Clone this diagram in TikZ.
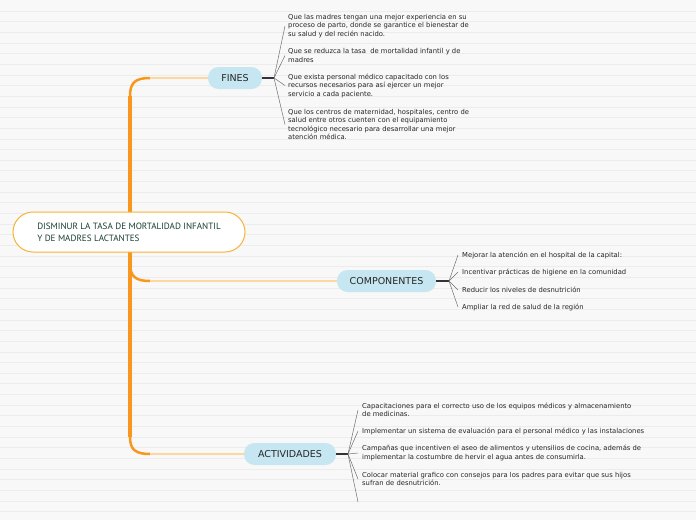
\documentclass[tikz,border=0pt]{standalone}
\usepackage{fontspec}
\setmainfont{DejaVu Sans}
\newfontfamily\rootfnt{PT Sans}
\definecolor{bgc}{HTML}{F8F8F8}
\definecolor{bgl}{HTML}{ECECEC}
\definecolor{trunkc}{HTML}{F8961E}
\definecolor{rootb}{HTML}{F9B233}
\definecolor{branchl}{HTML}{FDD7A0}
\definecolor{pillc}{HTML}{C6E6F1}
\definecolor{roottxt}{HTML}{163F2F}
\definecolor{fanc}{HTML}{707070}
\definecolor{hubc}{HTML}{333333}
\tikzset{
  pill/.style={fill=pillc, rounded corners=10.5pt, minimum height=22pt, inner sep=0pt,
    font=\fontsize{9.5}{11}\selectfont, text=black!85},
  leaf/.style={anchor=west, inner sep=0pt, align=left, font=\fontsize{6.8}{8.5}\selectfont, text=black!85},
  fan/.style={draw=fanc, line width=0.5pt},
  hubline/.style={draw=hubc, line width=1.6pt},
  trunkline/.style={draw=trunkc, line width=4pt},
  curvebr/.style={draw=trunkc, line width=2.5pt},
  twig/.style={draw=branchl, line width=1.4pt}
}
\begin{document}
\begin{tikzpicture}[x=1pt,y=-1pt]
\useasboundingbox (0,0) rectangle (696,520);
\fill[bgc] (0,0) rectangle (696,520);
\foreach \i in {0,...,48} \draw[bgl, line width=0.6pt] (0,{11+\i*10.65}) -- (696,{11+\i*10.65});

% trunk and branches
\coordinate (tT) at (130,96);
\coordinate (tB) at (130,437);
\coordinate (tM) at (130,263);
\coordinate (bF) at (150,78);
\coordinate (bC) at (150,281);
\coordinate (bA) at (150,454);
\draw[trunkline] (tT) -- (tB);
\draw[curvebr] (tT) .. controls (130,82) and (136,78) .. (bF);
\draw[curvebr] (tM) .. controls (130,277) and (136,281) .. (bC);
\draw[curvebr] (tB) .. controls (130,450) and (136,454) .. (bA);

% root
\node[draw=rootb, line width=1pt, fill=white, rounded corners=20pt, minimum width=232pt,
  minimum height=40pt, align=left, text=roottxt, inner sep=0pt,
  font=\rootfnt\fontsize{9.1}{12}\selectfont] (root) at (129,232)
  {DISMINUR LA TASA DE MORTALIDAD INFANTIL\\Y DE MADRES LACTANTES};

% main topics
\node[pill, minimum width=54pt] (fines) at (235,78) {FINES};
\node[pill, minimum width=99pt] (comp) at (386.5,281) {COMPONENTES};
\node[pill, minimum width=92pt] (act) at (290,454) {ACTIVIDADES};
\draw[twig] (bF) -- (fines.west);
\draw[twig] (bC) -- (comp.west);
\draw[twig] (bA) -- (act.west);

% hubs
\coordinate (hF) at (274,78);
\coordinate (hC) at (449,281);
\coordinate (hA) at (348,454);
\draw[hubline] (fines.east) -- (hF);
\draw[hubline] (comp.east) -- (hC);
\draw[hubline] (act.east) -- (hA);

% FINES leaves
\node[leaf] (f1) at (288,26) {Que las madres tengan una mejor experiencia en su\\proceso de parto, donde se garantice el bienestar de\\su salud y del recién nacido.};
\node[leaf] (f2) at (288,55.5) {Que se reduzca la tasa \ de mortalidad infantil y de\\madres};
\node[leaf] (f3) at (288,85.5) {Que exista personal médico capacitado con los\\recursos necesarios para así ejercer un mejor\\servicio a cada paciente.};
\node[leaf] (f4) at (288,124.5) {Que los centros de maternidad, hospitales, centro de\\salud entre otros cuenten con el equipamiento\\tecnológico necesario para desarrollar una mejor\\atención médica.};
\foreach \n in {f1,f2,f3,f4} \draw[fan] (hF) -- ([xshift=-3pt]\n.west);

% COMPONENTES leaves
\node[leaf] (c1) at (462,255) {Mejorar la atención en el hospital de la capital:};
\node[leaf] (c2) at (462,272) {Incentivar prácticas de higiene en la comunidad};
\node[leaf] (c3) at (462,290) {Reducir los niveles de desnutrición};
\node[leaf] (c4) at (462,307) {Ampliar la red de salud de la región};
\foreach \n in {c1,c2,c3,c4} \draw[fan] (hC) -- ([xshift=-4pt]\n.west);

% ACTIVIDADES leaves
\node[leaf] (a1) at (362,410) {Capacitaciones para el correcto uso de los equipos médicos y almacenamiento\\de medicinas.};
\node[leaf] (a2) at (362,431) {Implementar un sistema de evaluación para el personal médico y las instalaciones};
\node[leaf] (a3) at (362,453) {Campañas que incentiven el aseo de alimentos y utensilios de cocina, además de\\implementar la costumbre de hervir el agua antes de consumirla.};
\node[leaf] (a4) at (362,479) {Colocar material grafico con consejos para los padres para evitar que sus hijos\\sufran de desnutrición.};
\coordinate (a5) at (362,502);
\foreach \n in {a1,a2,a3,a4} \draw[fan] (hA) -- ([xshift=-4pt]\n.west);
\draw[fan] (hA) -- ([xshift=-4pt]a5);
\end{tikzpicture}
\end{document}
